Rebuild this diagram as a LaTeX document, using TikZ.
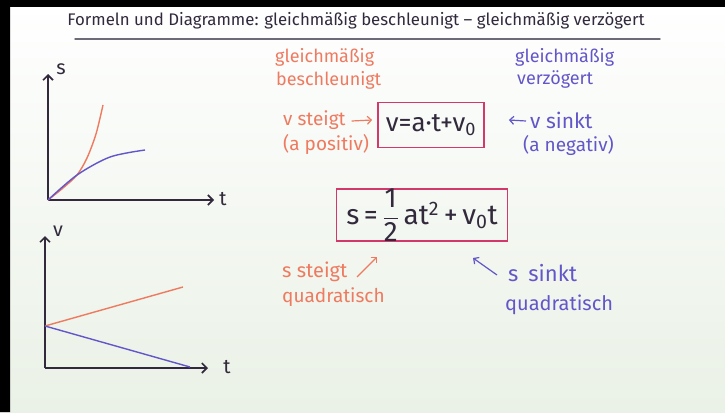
\documentclass[tikz,border=0pt]{standalone}
\usepackage{fontspec}
\setmainfont{Fira Sans}
\usetikzlibrary{arrows.meta}
\definecolor{ora}{RGB}{238,122,96}
\definecolor{blu}{RGB}{98,86,200}
\definecolor{mag}{RGB}{210,56,108}
\definecolor{ink}{RGB}{50,42,60}
\definecolor{board}{RGB}{234,241,230}
\tikzset{
  hand/.style={inner sep=0pt,anchor=west,font=\fontsize{19}{21}\selectfont},
  formel/.style={draw=mag,line width=1.8pt,inner sep=0pt,text=ink,font=\fontsize{26}{28}\selectfont},
  achse/.style={ink,line width=1.6pt,-{Straight Barb[length=5pt,width=10pt]}},
  pfeil/.style={line width=1.2pt,-{Straight Barb[length=4pt,width=8pt]}},
  kurve/.style={line width=1.4pt}
}
\begin{document}
\begin{tikzpicture}[x=1pt,y=-1pt]
\useasboundingbox (0,0) rectangle (725,412);
\shade[top color=white,bottom color=board] (0,0) rectangle (725,412);
\fill[black] (0,0) rectangle (10,412) (0,0) rectangle (725,7);
% Überschrift
\path (356,21) node[text=ink,font=\fontsize{16.8}{19}\selectfont](titel){Formeln und Diagramme: gleichmäßig beschleunigt -- gleichmäßig verzögert};
\path (75,39) coordinate(u1) (660,39) coordinate(u2);
\draw[ink!70,line width=1.4pt,line cap=round] (u1)--(u2);
% Diagramme
\foreach \o/\ox/\oy/\yt/\xt/\gy/\gx in {1/48/200/74/214/s/223,2/45/368/236/208/v/227}{
  \path (\ox,\oy) coordinate(o\o) (\ox,\yt) coordinate(y\o) (\xt,\oy) coordinate(x\o);
  \draw[achse] (o\o)--(y\o);
  \draw[achse] (o\o)--(x\o);
  \path (\ox+13,\yt-5) node[text=ink,font=\fontsize{20}{22}\selectfont](ly\o){\gy} (\gx,\oy-1) node[text=ink,font=\fontsize{20}{22}\selectfont](lx\o){t};
}
\draw[ora,kurve] plot[smooth] coordinates{(48,200) (63,188) (77,175) (87,158) (96,134) (103,105)};
\draw[blu,kurve] plot[smooth] coordinates{(48,200) (77,175) (110,157) (145,150)};
\path (45,326) coordinate(v0) (183,287) coordinate(ve1) (190,367) coordinate(ve2);
\draw[ora,kurve] (v0)--(ve1);
\draw[blu,kurve] (v0)--(ve2);
% Formeln
\path (431,125) node[formel,minimum width=106,minimum height=45](f1){v=a·t+v\textsubscript{0}};
\path (422,215) node[formel,minimum width=171,minimum height=50,font=\fontsize{28}{30}\selectfont](f2){s\,=\,$\displaystyle\frac{\hbox{1}}{\hbox{2}}$\,at\textsuperscript{2}\,+\,v\textsubscript{0}t};
% beschleunigt
\path (275,57) node[hand,ora,font=\fontsize{18}{20}\selectfont](gb){gleichmäßig} (276,80) node[hand,ora,font=\fontsize{18}{20}\selectfont](b){beschleunigt};
\path (283,120) node[hand,ora](vs){v steigt} (283,144) node[hand,ora](ap){(a positiv)};
\draw[pfeil,ora] (vs.east)++(6,1)--([xshift=-5pt]f1.west|-vs.east);
\path (282,272) node[hand,ora,font=\fontsize{20}{22}\selectfont](ss){s steigt} (282,297) node[hand,ora](qb){quadratisch};
\path (357,277) coordinate(p1) (377,257) coordinate(p2);
\draw[pfeil,ora] (p1)--(p2);
% verzögert
\path (515,57) node[hand,blu,font=\fontsize{18}{20}\selectfont](gv){gleichmäßig} (517,80) node[hand,blu,font=\fontsize{18}{20}\selectfont](vz){verzögert};
\path (530,120) node[hand,blu,font=\fontsize{21}{23}\selectfont](vk){v sinkt} (523,145) node[hand,blu](an){(a negativ)};
\draw[pfeil,blu] (vk.west)++(-4,1)--([xshift=24pt]f1.east|-vk.west);
\path (508,273) node[hand,blu,font=\fontsize{22}{24}\selectfont](sk){s\hspace{10pt}sinkt} (505,305) node[hand,blu,font=\fontsize{20}{22}\selectfont](qv){quadratisch};
\path (497,275) coordinate(p3) (473,258) coordinate(p4);
\draw[pfeil,blu] (p3)--(p4);
\end{tikzpicture}
\end{document}
